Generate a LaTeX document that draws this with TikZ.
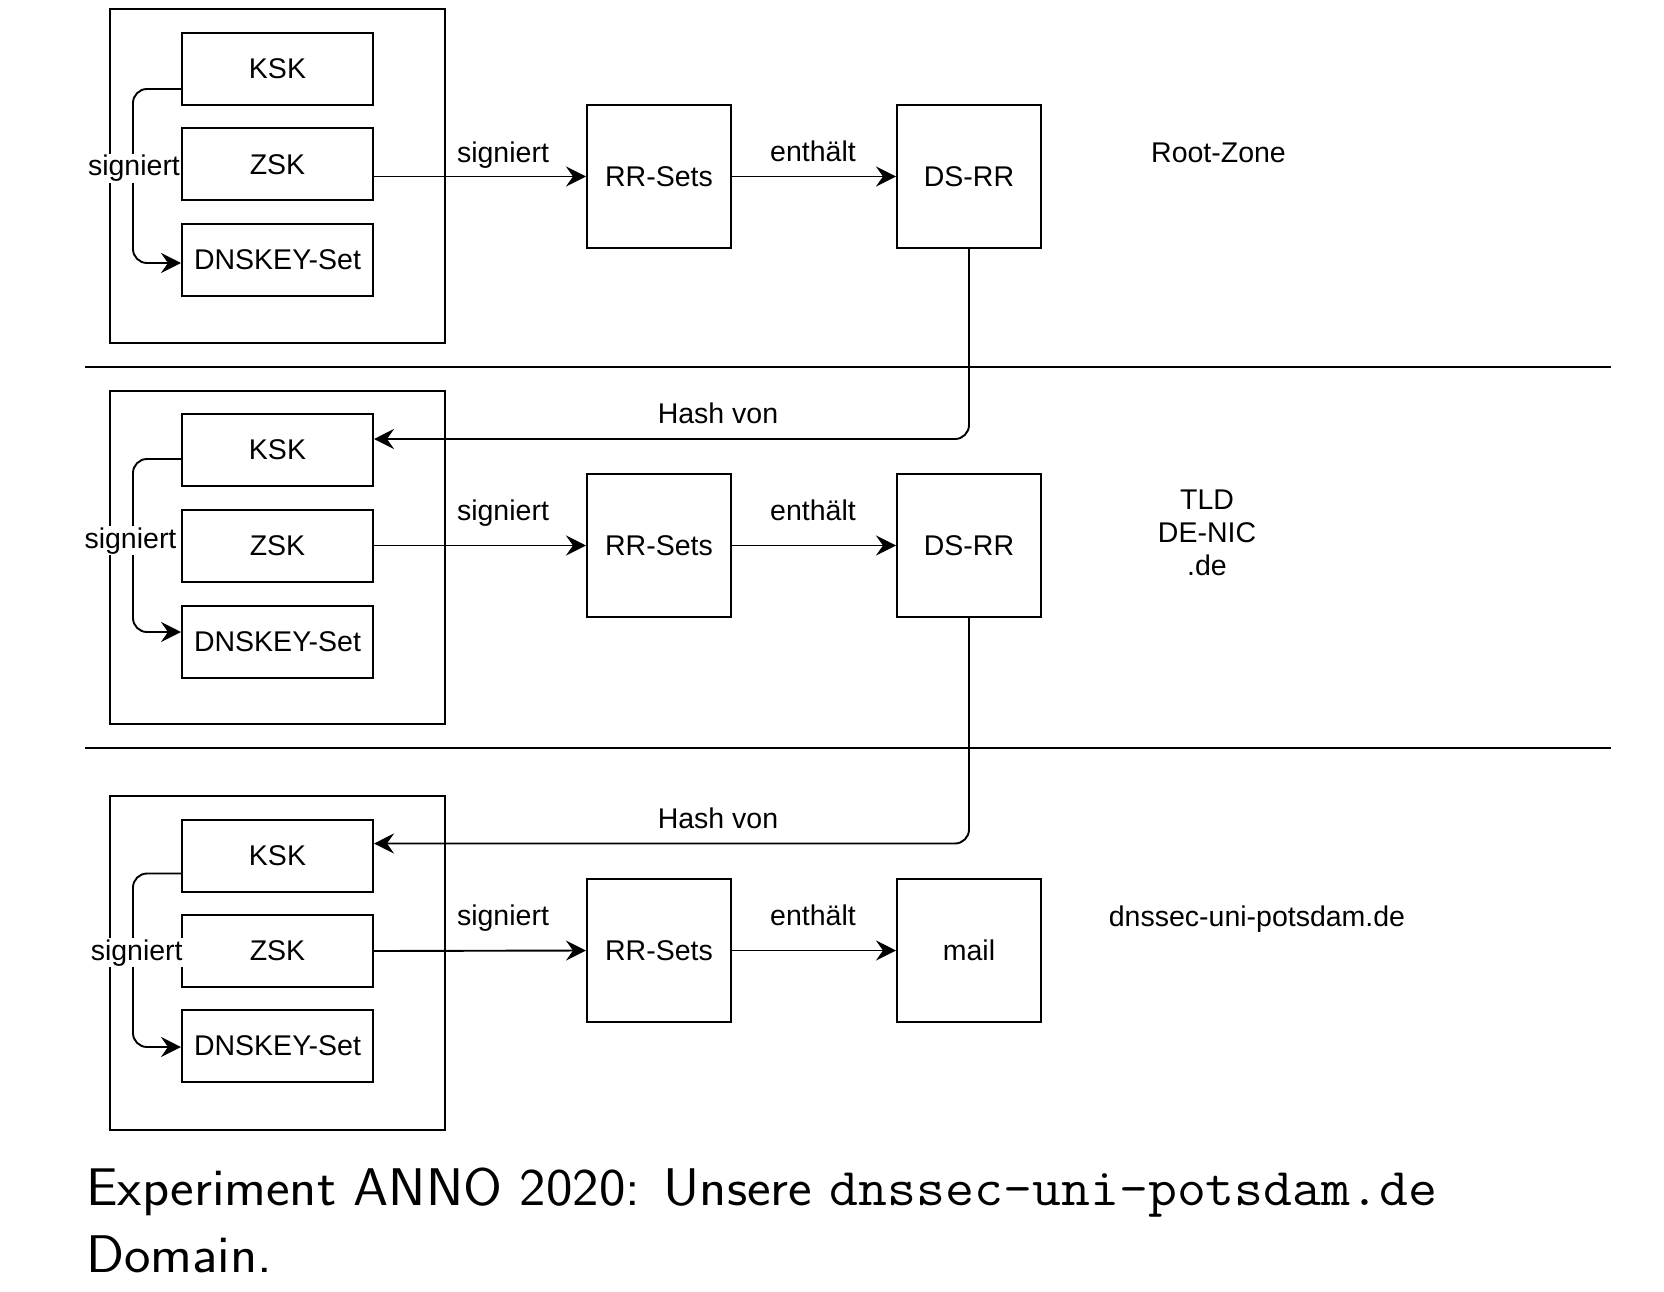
\documentclass[tikz,border=0pt]{standalone}
\usepackage{fontspec}
\newfontfamily\diagfont{Liberation Sans}
\usetikzlibrary{arrows.meta,calc}
\begin{document}
\begin{tikzpicture}[x=1pt,y=-1pt,
  dfont/.style={font=\diagfont\fontsize{28.5}{33}\selectfont},
  keybox/.style={draw, line width=2pt, rectangle, inner sep=0pt, minimum width=191pt, minimum height=72pt, dfont},
  rrbox/.style={draw, line width=2pt, rectangle, inner sep=0pt, minimum width=144pt, minimum height=143pt, dfont},
  outerbox/.style={draw, line width=2.2pt, rectangle, inner sep=0pt, minimum width=335pt},
  arr/.style={draw, line width=1.9pt, -{Stealth[length=20pt,width=20pt,inset=7pt]}},
  sepline/.style={draw, line width=2pt},
  lbl/.style={dfont, inner sep=0pt, anchor=base},
  wlbl/.style={dfont, inner sep=1.5pt, anchor=base, fill=white},
  capfont/.style={font=\sffamily\fontsize{53}{67}\selectfont, inner sep=0pt, anchor=base west, xscale=1.06, transform shape}
]
\useasboundingbox (0,0) rectangle (1664,1292);
\fill[white] (0,0) rectangle (1664,1292);

% separators
\coordinate (s1a) at (85,367);  \coordinate (s1b) at (1611,367);
\coordinate (s2a) at (85,748);  \coordinate (s2b) at (1611,748);
\draw[sepline] (s1a) -- (s1b);
\draw[sepline] (s2a) -- (s2b);

% ---------- Section 1 ----------
\node[outerbox, minimum height=334pt] (o1) at (277.5,176) {};
\node[keybox] (k1) at (277.5,69) {KSK};
\node[keybox] (z1) at (277.5,164.5) {ZSK};
\node[keybox] (d1) at (277.5,259.5) {DNSKEY-Set};
\node[rrbox] (r1) at (659,176.5) {RR-Sets};
\node[rrbox] (ds1) at (969,176.5) {DS-RR};
\node[lbl] (zone1) at (1218.5,163) {Root-Zone};

\draw[arr, rounded corners=14pt] ($(k1.west)+(0,20)$) -- ($(k1.west)+(-48,20)$) |- ($(d1.west)+(0,3.5)$);
\draw[arr] (z1.east |- r1.west) -- (r1.west);
\draw[arr] (r1.east) -- (ds1.west);
\node[wlbl] (sl1) at (134,176) {signiert};
\node[lbl] (sr1) at (503,163) {signiert};
\node[lbl] (e1) at (813,162) {enthält};

% ---------- Section 2 ----------
\node[outerbox, minimum height=333pt] (o2) at (277.5,557.5) {};
\node[keybox] (k2) at (277.5,450) {KSK};
\node[keybox] (z2) at (277.5,545.5) {ZSK};
\node[keybox] (d2) at (277.5,641.5) {DNSKEY-Set};
\node[rrbox] (r2) at (659,545.5) {RR-Sets};
\node[rrbox] (ds2) at (969,545.5) {DS-RR};
\node[dfont, inner sep=0pt, align=center] (zone2) at (1207,533.3) {TLD\\DE-NIC\\.de};

\draw[arr, rounded corners=14pt] ($(k2.west)+(0,9)$) -- ($(k2.west)+(-48,9)$) |- ($(d2.west)+(0,-9.5)$);
\draw[arr] (z2.east) -- (r2.west);
\draw[arr] (r2.east) -- (ds2.west);
\draw[arr, rounded corners=14pt] (ds1.south) |- ($(k2.east)+(0,-11)$);
\node[wlbl] (sl2) at (130.5,548) {signiert};
\node[lbl] (sr2) at (503,520) {signiert};
\node[lbl] (e2) at (813,520) {enthält};
\node[lbl] (h1) at (718,423) {Hash von};

% ---------- Section 3 ----------
\node[outerbox, minimum height=334pt] (o3) at (277.5,963) {};
\node[keybox] (k3) at (277.5,855.5) {KSK};
\node[keybox] (z3) at (277.5,951) {ZSK};
\node[keybox] (d3) at (277.5,1046) {DNSKEY-Set};
\node[rrbox] (r3) at (659,950.5) {RR-Sets};
\node[rrbox] (m3) at (969,950.5) {mail};
\node[lbl] (zone3) at (1257,926) {dnssec-uni-potsdam.de};

\draw[arr, rounded corners=14pt] ($(k3.west)+(0,18)$) -- ($(k3.west)+(-48,18)$) |- ($(d3.west)+(0,1)$);
\draw[arr] (z3.east) -- (r3.west);
\draw[arr] (r3.east) -- (m3.west);
\draw[arr, rounded corners=14pt] (ds2.south) |- ($(k3.east)+(0,-12)$);
\node[wlbl] (sl3) at (136.7,960) {signiert};
\node[lbl] (sr3) at (503,925) {signiert};
\node[lbl] (e3) at (813,925) {enthält};
\node[lbl] (h2) at (718,828) {Hash von};

% ---------- Caption ----------
\node[capfont] (cap1) at (86,1205) {Experiment ANNO 2020: Unsere \texttt{dnssec-uni-potsdam.de}};
\node[capfont] (cap2) at (86,1272) {Domain.};
\end{tikzpicture}
\end{document}
